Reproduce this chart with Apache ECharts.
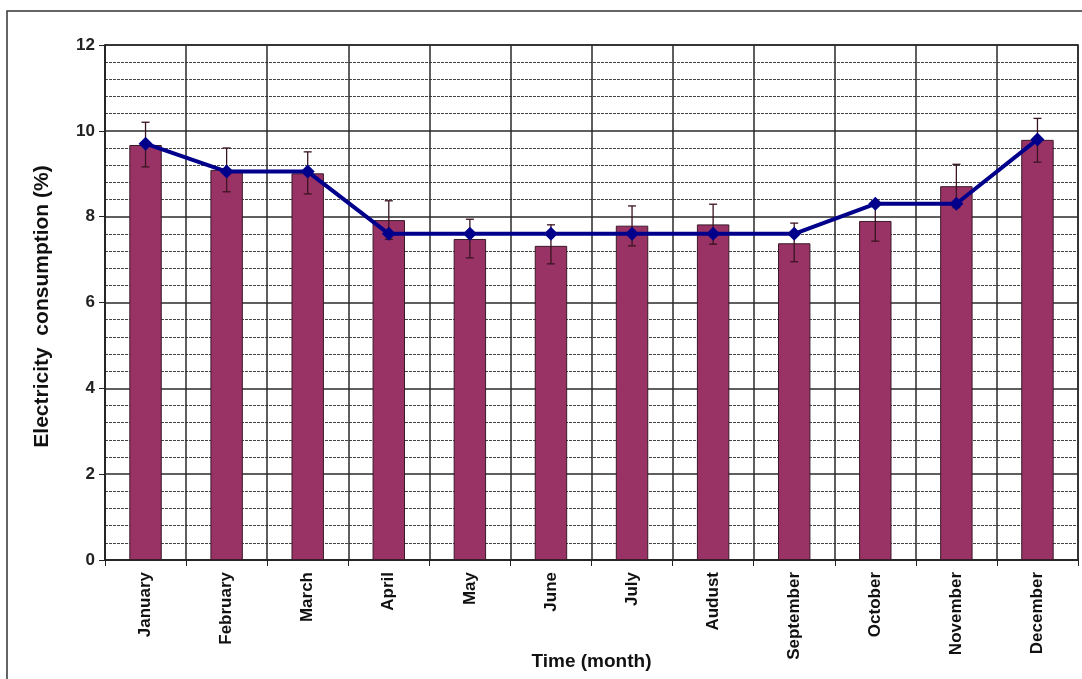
<!DOCTYPE html>
<html>
<head>
<meta charset="utf-8">
<script src="https://cdn.jsdelivr.net/npm/echarts@6/dist/echarts.min.js"></script>
<style>
html,body{margin:0;padding:0;background:#fff;}
#chart{width:1082px;height:679px;}
</style>
</head>
<body>
<div id="chart"></div>
<script>
//月份
var months = ['January','February','March','April','May','June','July','Audust','September','October','November','December'];
//柱状数据
var barValues = [9.67, 9.09, 9.01, 7.92, 7.48, 7.32, 7.79, 7.82, 7.38, 7.90, 8.71, 9.79];
//误差上下限
var errLow = [9.16, 8.58, 8.53, 7.47, 7.04, 6.90, 7.32, 7.36, 6.95, 7.43, 8.21, 9.27];
var errHigh = [10.20, 9.60, 9.51, 8.37, 7.94, 7.81, 8.25, 8.29, 7.85, 8.37, 9.22, 10.29];
//折线数据
var lineValues = [9.7, 9.05, 9.05, 7.6, 7.6, 7.6, 7.6, 7.6, 7.6, 8.3, 8.3, 9.8];

var errData = [];
for(var i = 0; i < months.length; i++){
	errData.push([i, errLow[i], errHigh[i]]);
}

var font = 'Liberation Sans, Arial, sans-serif';

option = {
    backgroundColor: '#fff',
    animation: false,
    graphic: [{
        type: 'rect',
        shape: {x: 7, y: 11, width: 1100, height: 700},
        style: {fill: 'none', stroke: '#333', lineWidth: 1.5},
        z: 0
    }],
    grid: {
        left: 105,
        right: 4,
        top: 45,
        bottom: 119,
        containLabel: false,
        outerBoundsMode: 'none',
        show: true,
        borderColor: '#222',
        borderWidth: 1.5
    },
    xAxis: {
        type: 'category',
        data: months,
        name: 'Time (month)',
        nameLocation: 'middle',
        nameGap: 92,
        nameMoveOverlap: false,
        nameTextStyle: {fontFamily: font, fontWeight: 'bold', fontSize: 19, color: '#111', verticalAlign: 'top'},
        axisLine: {lineStyle: {color: '#222', width: 1.5}},
        axisTick: {show: true, length: 6, lineStyle: {color: '#222'}},
        axisLabel: {rotate: 90, margin: 12, fontFamily: font, fontWeight: 'bold', fontSize: 17, color: '#111'},
        splitLine: {show: true, lineStyle: {color: '#2a2a2a', width: 1.5}}
    },
    yAxis: {
        type: 'value',
        min: 0,
        max: 12,
        interval: 2,
        name: 'Electricity  consumption (%)',
        nameLocation: 'middle',
        nameGap: 52,
        nameMoveOverlap: false,
        nameTextStyle: {fontFamily: font, fontWeight: 'bold', fontSize: 21, color: '#111', padding: [0, 0, 0, -8]},
        axisLine: {show: true, lineStyle: {color: '#222', width: 1.5}},
        axisTick: {show: true, length: 6, lineStyle: {color: '#222'}},
        axisLabel: {margin: 10, fontFamily: font, fontWeight: 'bold', fontSize: 17, color: '#222'},
        splitLine: {show: true, lineStyle: {color: '#2a2a2a', width: 1.5}},
        minorTick: {show: false, splitNumber: 5},
        minorSplitLine: {show: true, lineStyle: {color: '#444', width: 1, type: [3, 1]}}
    },
    series: [{
        type: 'bar',
        data: barValues,
        barWidth: '40%',
        itemStyle: {color: '#993366', borderColor: '#3a1a28', borderWidth: 1},
        z: 2
    }, {
        type: 'custom',
        data: errData,
        z: 3,
        encode: {x: 0, y: [1, 2]},
        renderItem: function(params, api){
            var x = api.value(0);
            var lo = api.coord([x, api.value(1)]);
            var hi = api.coord([x, api.value(2)]);
            var w = 4;
            var st = {stroke: '#3a1420', lineWidth: 1.3};
            return {
                type: 'group',
                children: [
                    {type: 'line', shape: {x1: hi[0], y1: hi[1], x2: lo[0], y2: lo[1]}, style: st},
                    {type: 'line', shape: {x1: hi[0] - w, y1: hi[1], x2: hi[0] + w, y2: hi[1]}, style: st},
                    {type: 'line', shape: {x1: lo[0] - w, y1: lo[1], x2: lo[0] + w, y2: lo[1]}, style: st}
                ]
            };
        }
    }, {
        type: 'line',
        data: lineValues,
        symbol: 'diamond',
        symbolSize: 14,
        lineStyle: {color: '#00008b', width: 4},
        itemStyle: {color: '#00008b'},
        z: 4
    }]
};
var myChart = echarts.init(document.getElementById('chart'));
myChart.setOption(option, true);
</script>
</body>
</html>
